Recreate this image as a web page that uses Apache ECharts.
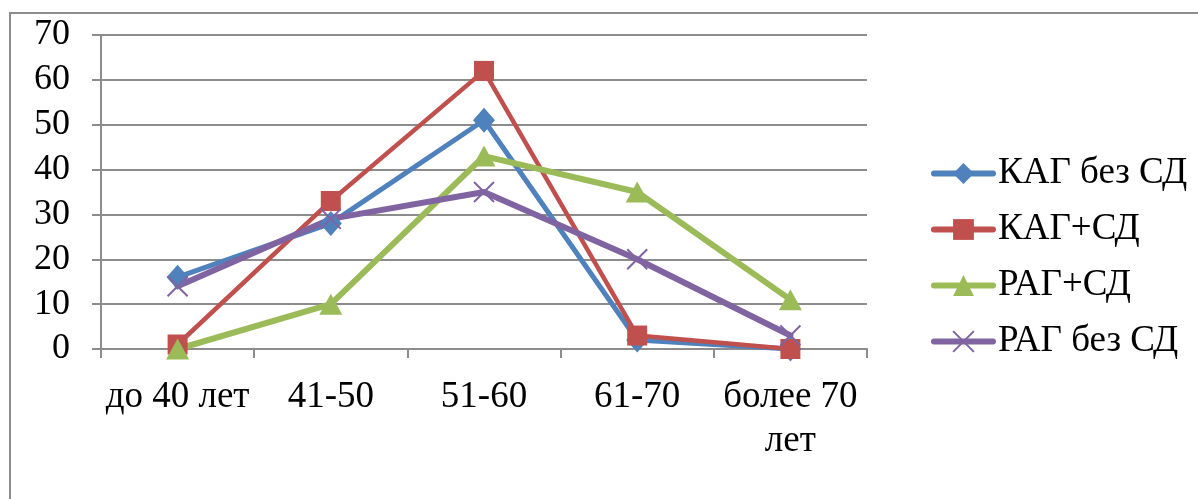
<!DOCTYPE html>
<html>
<head>
<meta charset="utf-8">
<script src="https://cdn.jsdelivr.net/npm/echarts@6/dist/echarts.min.js"></script>
<style>
html,body{margin:0;padding:0;background:#fff;}
#c{width:1198px;height:499px;}
</style>
</head>
<body>
<div id="c"></div>
<script>
const categories = ['до 40 лет', '41-50', '51-60', '61-70', 'более 70 лет'];
const seriesNames = ['КАГ без СД', 'КАГ+СД', 'РАГ+СД', 'РАГ без СД'];
const kagNoSD = [16, 28, 51, 2, 0];
const kagSD = [1, 33, 62, 3, 0];
const ragSD = [0, 10, 43, 35, 11];
const ragNoSD = [14, 29, 35, 20, 3];
const yTicks = [0, 10, 20, 30, 40, 50, 60, 70];

const font = '"Liberation Serif", "Times New Roman", serif';
const colors = ['#4F81BD', '#C0504D', '#9BBB59', '#8064A2'];
const values = [kagNoSD, kagSD, ragSD, ragNoSD];
const symbols = ['diamond', 'rect', 'triangle', 'path://M0,0 L10,10 M10,0 L0,10'];
const sizes = [[22, 25], 20, [23, 21], 20];
const widths = [5, 4.5, 6, 6];

const chart = echarts.init(document.getElementById('c'));
chart.setOption({
  animation: false,
  backgroundColor: '#fff',
  graphic: [{
    type: 'rect', shape: {x: 10, y: 13, width: 1300, height: 600},
    style: {fill: 'none', stroke: '#8c8c8c', lineWidth: 2}, silent: true, z: -1
  }],
  grid: {left: 101, right: 331, top: 35, bottom: 150, containLabel: false},
  legend: {
    orient: 'vertical', left: 926, top: 150,
    itemWidth: 59, itemHeight: 26, itemGap: 19,
    lineStyle: {width: 6, cap: 'round'},
    textStyle: {fontFamily: font, fontSize: 37, color: '#000', lineHeight: 34, padding: [0, 0, 0, 0]},
    data: seriesNames
  },
  xAxis: {
    type: 'category', data: categories, boundaryGap: true,
    axisLine: {lineStyle: {color: '#8c8c8c', width: 2}},
    axisTick: {show: true, length: 9, inside: false, lineStyle: {color: '#8c8c8c', width: 2}},
    axisLabel: {
      fontFamily: font, fontSize: 37, color: '#000', margin: 26, lineHeight: 44, interval: 0,
      formatter: v => v.length > 10 ? v.replace(/ (\S+)$/, '\n$1') : v
    }
  },
  yAxis: {
    type: 'value', min: 0, max: 70, interval: 10,
    axisLine: {show: true, lineStyle: {color: '#8c8c8c', width: 2}},
    axisTick: {show: true, length: 9, lineStyle: {color: '#8c8c8c', width: 2}},
    splitLine: {lineStyle: {color: '#8c8c8c', width: 2}},
    axisLabel: {fontFamily: font, fontSize: 36, color: '#000', margin: 31,
      formatter: v => yTicks.includes(v) ? String(v) : ''}
  },
  series: seriesNames.map((n, i) => ({
    name: n, type: 'line', data: values[i],
    symbol: symbols[i], symbolSize: sizes[i], showSymbol: true,
    lineStyle: {color: colors[i], width: widths[i], cap: 'round'},
    itemStyle: i === 3 ? {color: 'none', borderColor: colors[i], borderWidth: 2} : {color: colors[i], borderWidth: 0},
    color: colors[i]
  }))
});
</script>
</body>
</html>
